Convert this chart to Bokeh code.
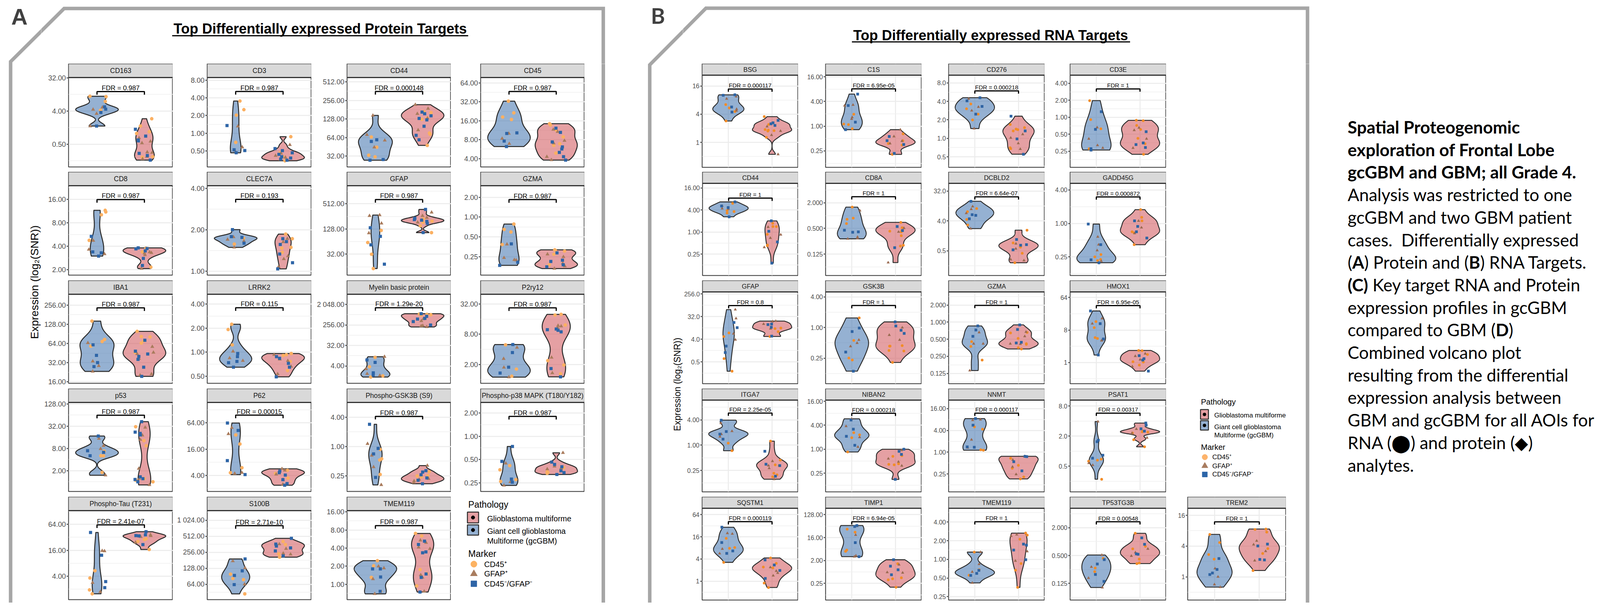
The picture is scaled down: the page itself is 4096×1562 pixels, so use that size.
import numpy as np
from bokeh.plotting import figure
from bokeh.models import Range1d, FixedTicker, ColumnDataSource, Spacer, Div
from bokeh.layouts import row, column
from bokeh.transform import jitter
from bokeh.core.properties import value, field
from bokeh.embed import file_html
from bokeh.resources import INLINE

# ======================= DATA (values are log2(SNR)) =======================
protein_title = "Top Differentially expressed Protein Targets"
rna_title = "Top Differentially expressed RNA Targets"
y_title = "Expression (log\u2082(SNR))"
pathology_labels = ["Glioblastoma multiforme", "Giant cell glioblastoma", "Multiforme (gcGBM)"]
marker_labels = ["CD45\u207a", "GFAP\u207a", "CD45\u207b/GFAP\u207b"]

protein_names = ["CD163", "CD3", "CD44", "CD45", "CD8", "CLEC7A", "GFAP", "GZMA", "IBA1", "LRRK2",
                 "Myelin basic protein", "P2ry12", "p53", "P62", "Phospho-GSK3B (S9)",
                 "Phospho-p38 MAPK (T180/Y182)", "Phospho-Tau (T231)", "S100B", "TMEM119"]
protein_fdr = ["0.987", "0.987", "0.000148", "0.987", "0.987", "0.193", "0.987", "0.987", "0.987", "0.115",
               "1.29e-20", "0.987", "0.987", "0.00015", "0.987", "0.987", "2.41e-07", "2.71e-10", "0.987"]
protein_ticks = [[5, 2, -1], [3, 2, 1, 0, -1], [9, 8, 7, 6, 5], [6, 5, 4, 3, 2], [4, 3, 2, 1], [2, 1, 0],
                 [9, 7, 5], [1, 0, -1, -2], [8, 7, 6, 5, 4], [2, 1, 0, -1], [11, 8, 5, 2], [5, 3, 1],
                 [7, 5, 3, 1], [6, 4, 2], [2, 0, -2], [1, 0, -1, -2], [6, 4, 2], [10, 9, 8, 7, 6],
                 [4, 3, 2, 1, 0]]
protein_tick_labels = [["32.00", "4.00", "0.50"], ["8.00", "4.00", "2.00", "1.00", "0.50"],
                       ["512.00", "256.00", "128.00", "64.00", "32.00"], ["64.00", "32.00", "16.00", "8.00", "4.00"],
                       ["16.00", "8.00", "4.00", "2.00"], ["4.00", "2.00", "1.00"], ["512.00", "128.00", "32.00"],
                       ["2.00", "1.00", "0.50", "0.25"], ["256.00", "128.00", "64.00", "32.00", "16.00"],
                       ["4.00", "2.00", "1.00", "0.50"], ["2 048.00", "256.00", "32.00", "4.00"],
                       ["32.00", "8.00", "2.00"], ["128.00", "32.00", "8.00", "2.00"], ["64.00", "16.00", "4.00"],
                       ["4.00", "1.00", "0.25"], ["2.00", "1.00", "0.50", "0.25"], ["64.00", "16.00", "4.00"],
                       ["1 024.00", "512.00", "256.00", "128.00", "64.00"], ["16.00", "8.00", "4.00", "2.00", "1.00"]]
protein_ylim = [(-3.06, 5.03), (-1.91, 3.15), (4.42, 9.23), (1.56, 6.29), (0.77, 4.58), (-0.09, 2.07),
                (3.34, 10.44), (-2.92, 1.58), (3.92, 8.57), (-1.30, 2.41), (-0.53, 12.49), (-0.25, 5.65),
                (-0.87, 7.13), (0.77, 7.56), (-3.08, 3.00), (-2.37, 1.45), (0.19, 7.06), (5.04, 10.60),
                (-0.85, 4.07)]
protein_bracket = [3.76, 2.36, 8.48, 5.55, 3.99, 1.74, 9.34, 0.88, 7.86, 1.85, 10.52, 4.75, 5.98, 6.59,
                   2.05, 0.85, 5.96, 9.66, 3.24]

protein_gc_cd45 = [[3.33, 3.30, 2.87, 2.07], [1.82, 1.33, 1.02, -0.52], [6.03, 5.48, 5.05, 4.96],
                   [5.04, 4.42, 4.20, 4.07], [3.53, 3.46, 3.34, 2.25], [0.80, 0.66], [6.89, 5.93, 5.00, 3.86],
                   [-0.35, -0.62, -0.75, -1.38], [7.17, 6.21, 6.10, 5.86], [1.16, 0.94, 0.30],
                   [3.26, 1.89, 0.55, 0.38], [2.30, 0.69, 0.22], [2.75, 2.34, 2.33, 0.84], [5.08, 4.39, 2.58, 2.20],
                   [-0.21, -0.85, -0.93, -1.92], [-1.26, -1.44, -1.86, -1.94], [2.42, 1.86, 0.94, 0.64],
                   [6.63, 6.36, 6.29, 5.40], [1.30, 1.02, 0.38, -0.40]]
protein_gc_gfap = [[2.33, 2.14, 1.76, 0.64], [0.39, -0.79, -0.98], [7.19, 5.85, 6.15, 5.48], [3.33, 3.06, 2.79],
                   [2.24, 1.86, 1.67], [0.83, 0.77, 0.73, 0.58], [8.11, 7.45, 6.68, 8.05],
                   [-1.37, -2.05, -2.15, -2.17], [6.03, 5.07, 4.83, 4.54], [0.03, -0.25, -0.36],
                   [3.36, 1.56, 0.86, 0.60], [2.12, 1.38, 0.80, 0.16], [3.88, 3.24, 2.96, 0.59],
                   [5.63, 5.16, 2.20, 2.14], [0.18, -0.62, -1.41, -2.63], [-1.16, -1.96, -2.11],
                   [3.94, 3.96, 1.50, 0.79], [7.45, 7.02, 6.00], [0.99, 0.89, 0.29, -0.53]]
protein_gc_neg = [[2.17, 1.87, 2.38, 0.64], [0.43, -0.94, -0.98, -1.11], [5.88, 5.79, 4.82, 4.78],
                  [3.33, 3.36, 2.93, 2.64], [2.42, 1.76, 1.72, 1.58], [1.01, 0.82, 0.84, 0.68],
                  [7.10, 6.42, 5.74, 4.21], [-1.35, -2.27, -2.43], [5.93, 5.38, 5.00, 4.79],
                  [-0.06, -0.19, -0.39, -0.44, -0.63], [2.88, 2.53, 1.00, 0.65], [2.32, 1.79, 0.82, 0.43],
                  [4.11, 2.79, 2.65, 2.34], [5.99, 5.42, 3.12, 2.06], [1.51, -0.14, -0.51, -2.12],
                  [-0.44, -1.08, -1.84, -1.97], [5.37, 3.62, 1.58, 1.12], [7.58, 6.84, 6.55, 5.98],
                  [0.85, 0.85, 0.40, -0.39]]
protein_gbm_cd45 = [[1.30, 0.64, 0.12, -0.03, -2.13, -2.18], [-0.20, -1.11, -1.33, -1.56],
                    [7.40, 7.34, 7.04, 6.98, 6.18, 6.24, 5.58], [3.85, 3.78, 3.51, 3.15, 2.79, 2.70, 2.29],
                    [1.92, 1.89, 1.76, 1.11], [0.90, 0.79, 0.58, 0.56, 0.46], [7.63, 7.53, 7.26, 6.71, 7.80],
                    [-1.67, -1.71, -1.65, -1.87, -2.40], [6.63, 6.36, 6.14, 6.34, 6.02, 5.53],
                    [-0.06, -0.11, -0.14, -0.39, -0.77], [9.55, 9.45, 9.59, 9.50],
                    [4.27, 4.32, 3.61, 1.25, 0.96, 0.38], [4.95, 3.70, 3.24, 0.28, 0.14, 0.00],
                    [2.38, 2.20, 2.14, 1.79], [-1.73, -2.00, -2.08, -2.02, -2.31], [-1.35, -1.53, -1.59, -1.55],
                    [4.89, 4.68, 4.83, 4.06], [8.67, 8.48, 7.90, 7.69], [2.81, 2.67, 0.81, 0.59, -0.09]]
protein_gbm_gfap = [[-0.44, -0.90, -0.75, -1.77, -1.72, -2.13, -2.34], [-0.66, -1.14, -1.27, -1.37, -1.49],
                    [7.77, 7.56, 7.28, 7.04, 6.40], [3.54, 3.42, 2.95, 2.82, 2.10, 1.93],
                    [1.72, 1.75, 1.70, 1.63, 1.05], [0.79, 0.71, 0.37, 0.30, 0.11], [8.32, 8.05, 7.90, 7.53, 7.70],
                    [-1.87, -2.00, -2.33, -2.47, -2.59], [5.83, 5.53, 5.45, 5.21, 4.40, 4.34],
                    [-0.11, -0.30, -0.36, -0.60, -0.91], [8.87, 8.58, 7.90, 7.85, 7.71],
                    [3.53, 3.57, 3.44, 1.46, 0.43], [4.88, 4.18, 3.79, 1.19, 0.28, -0.28],
                    [2.50, 2.38, 2.08, 1.67, 1.31], [-1.31, -2.21, -2.26, -2.37, -2.47], [-0.71, -1.29, -1.37, -1.41],
                    [5.19, 5.11, 5.04, 4.60], [8.51, 8.22, 7.93, 7.87], [2.43, 2.30, 2.04, 1.96, 0.51, 0.38, -0.39]]
protein_gbm_neg = [[0.35, -0.27, -0.62, -0.70, -1.83, -2.03, -2.44],
                   [-0.87, -0.99, -1.11, -1.20, -1.33, -1.41, -1.46, -1.53],
                   [7.37, 7.28, 7.17, 7.03, 6.95, 6.61, 6.12, 5.88], [3.61, 3.39, 2.88, 2.62, 2.51, 2.33, 2.10, 1.92],
                   [1.93, 1.90, 1.89, 1.80, 1.48, 1.18], [0.79, 0.72, 0.65, 0.42, 0.21, 0.06],
                   [8.56, 7.85, 7.75, 7.70, 7.60, 7.45, 6.72], [-1.80, -2.17, -2.23, -2.40, -2.50],
                   [6.17, 5.60, 5.45, 5.32, 5.17, 4.76, 4.28], [-0.19, -0.26, -0.47, -0.63, -1.03],
                   [9.65, 9.26, 8.97, 8.87, 8.49, 8.00], [3.35, 3.16, 3.30, 3.26, 0.73, 0.18],
                   [5.40, 4.46, 4.35, 4.21, 0.28, 0.21, 0.00, 0.45], [2.32, 2.20, 2.02, 1.67, 1.37, 1.25],
                   [-1.66, -1.75, -1.94, -2.15, -2.31, -2.55], [-1.11, -1.31, -1.48, -1.56, -1.64, -1.21],
                   [5.43, 5.19, 5.13, 5.11, 4.44], [8.87, 8.51, 8.39, 8.27, 8.08, 7.77],
                   [2.38, 2.20, 1.79, 1.74, 0.57, 0.38, -0.43]]

rna_names = ["BSG", "C1S", "CD276", "CD3E", "CD44", "CD8A", "DCBLD2", "GADD45G", "GFAP", "GSK3B", "GZMA",
             "HMOX1", "ITGA7", "NIBAN2", "NNMT", "PSAT1", "SQSTM1", "TIMP1", "TMEM119", "TP53TG3B", "TREM2"]
rna_fdr = ["0.000117", "6.95e-05", "0.000218", "1", "1", "1", "6.64e-07", "0.000872", "0.8", "1", "1",
           "6.95e-05", "2.25e-05", "0.000218", "0.000117", "0.00317", "0.000119", "6.94e-05", "1", "0.00548", "1"]
rna_ticks = [[4, 2, 0], [4, 2, 0, -2], [3, 2, 1, 0, -1], [2, 1, 0, -1, -2], [4, 2, 0, -2], [1, -1, -3],
             [5, 2, -1], [2, 0, -2], [8, 5, 2, -1], [2, 0, -2], [1, 0, -1, -2, -3], [6, 3, 0], [2, 0, -2],
             [4, 2, 0, -2], [4, 2, 0, -2], [3, 1, -1], [6, 4, 2, 0], [7, 4, 1, -2], [2, 1, 0, -1, -2],
             [1, -1, -3], [4, 2, 0]]
rna_tick_labels = [["16", "4", "1"], ["16.00", "4.00", "1.00", "0.25"], ["8.0", "4.0", "2.0", "1.0", "0.5"],
                   ["4.00", "2.00", "1.00", "0.50", "0.25"], ["16.00", "4.00", "1.00", "0.25"],
                   ["2.000", "0.500", "0.125"], ["32.0", "4.0", "0.5"], ["4.00", "1.00", "0.25"],
                   ["256.0", "32.0", "4.0", "0.5"], ["4.00", "1.00", "0.25"],
                   ["2.000", "1.000", "0.500", "0.250", "0.125"], ["64", "8", "1"], ["4.00", "1.00", "0.25"],
                   ["16.00", "4.00", "1.00", "0.25"], ["16.00", "4.00", "1.00", "0.25"], ["8.0", "2.0", "0.5"],
                   ["64", "16", "4", "1"], ["128.00", "16.00", "2.00", "0.25"],
                   ["4.00", "2.00", "1.00", "0.50", "0.25"], ["2.000", "0.500", "0.125"], ["16", "4", "1"]]
rna_ylim = [(-1.76, 4.76), (-3.33, 4.13), (-1.57, 3.42), (-2.95, 2.48), (-3.94, 4.41), (-4.67, 2.51),
            (-3.48, 5.77), (-3.11, 2.39), (-3.87, 8.27), (-3.67, 2.33), (-3.60, 1.77), (-1.96, 6.52),
            (-3.70, 3.57), (-3.56, 4.10), (-3.65, 4.79), (-2.71, 3.40), (-1.70, 6.58), (-4.18, 7.84),
            (-2.18, 2.74), (-4.20, 2.40), (-1.51, 4.46)]
rna_bracket = [3.78, 3.02, 2.57, 1.67, 3.07, 1.47, 4.42, 1.58, 6.46, 1.44, 0.98, 5.26, 2.54, 3.00, 3.59,
               2.53, 5.37, 6.08, 2.02, 1.43, 3.58]

rna_gc_cd45 = [[2.68, 2.44, 2.19, 1.52], [0.97, 0.17, 0.13, -0.20], [1.86, 1.00, 1.60, 1.31],
               [0.98, -0.14, -0.68, -1.85], [2.60, 1.85, 1.72, 1.94], [0.66, -0.20, -0.29, -0.62],
               [3.24, 2.93, 2.14, 1.59], [-1.86, -2.15, -2.22, -2.00], [2.85, 2.37, -0.55, -2.22],
               [0.63, -0.84, -1.99, -2.12], [-1.14, -1.42, -2.22], [3.78, 3.22, 2.30, 2.22], [0.16, -0.44],
               [1.38, 1.20, 0.96, -0.23], [2.33, 2.11, 0.18, 0.22], [-0.53, -0.60, -0.67, -1.87],
               [3.87, 3.04, 2.97, 1.70], [4.71, 5.10, 2.37, 2.20], [0.39, -0.85, -0.56], [-1.20, -1.90, -2.16],
               [2.76, 2.23, 1.45, 1.15]]
rna_gc_gfap = [[3.25, 3.09, 2.36, 2.25], [1.72, 1.67, 0.72, 0.58], [2.14, 1.70, 1.50, 0.53],
               [-0.60, -1.27, -1.65, -1.81], [2.37, 2.13, 2.09], [0.39, -1.67, -1.78, -1.81],
               [3.45, 2.77, 1.23, 3.18], [-0.80, -1.27, -1.61, -2.25], [5.93, 4.76, 2.74, 1.95],
               [-0.81, -1.01, -1.23], [-0.60, -1.26, -1.26, -2.83], [4.07, 3.59, 2.07, 2.02],
               [1.75, 1.11, 0.87, 0.67], [2.54, 1.92, 1.00, 0.19], [3.00, 2.94, 1.15, 0.41], [1.97, -0.93, -0.80],
               [4.27, 4.33, 2.91, 2.50], [5.50, 4.34, 1.63, 1.50], [-0.26, -0.67, -1.26, 0.39],
               [-0.96, -1.82, -2.62, -3.30], [0.54, 0.00, -0.50, -0.67]]
rna_gc_neg = [[3.34, 3.37, 2.51, 2.15], [2.60, 1.67, 0.33, -0.28], [2.20, 1.73, 2.03, 1.31],
              [0.33, -0.71, -1.85, -1.93], [2.73, 2.36, 2.22, 1.38], [-1.14, -1.27, -1.30],
              [3.97, 2.56, 2.21, 2.62], [-0.04, -1.27, -2.17, -2.35], [4.23, 3.54, 1.10, 0.25],
              [-0.03, -0.26, -1.60, -2.85], [-0.22, -0.46, -0.83], [4.76, 3.59, 2.17, 0.69],
              [1.98, 0.87, 0.48, 1.08], [2.44, 1.67, 1.08, 0.33], [3.09, 2.48, 0.49, 0.45],
              [0.63, 0.73, -0.27, -0.47], [4.87, 3.49, 2.73, 2.51], [5.58, 5.45, 3.34, 1.50],
              [-0.86, -0.59, -0.75], [-1.29, -1.61, -2.36, -2.86], [1.19, 0.48, 0.25, 0.15]]
rna_gbm_cd45 = [[1.83, 1.27, 0.84, 0.87, 0.81, 0.36, 0.91], [-0.62, -1.17, -1.40, -1.53, -2.28],
                [0.75, 0.58, 0.50, 0.40, -0.51, -0.56, 0.47], [-0.20, -0.18, -0.48, -1.24, -1.56, -2.18, -0.72],
                [0.79, 0.50, 0.49, -0.21, -1.18, -1.23], [-0.53, -1.18, -1.22, -1.27, -0.94, -1.57, -2.31, -2.37],
                [1.07, -0.21, -0.63, -1.25, -2.20], [0.82, 0.36, 0.15, -0.50, -0.57, -1.27],
                [3.49, 3.41, 3.01, 2.37], [-1.21, -1.21, -1.18, -1.50, -1.53, -2.28],
                [-0.63, -0.60, -0.95, -1.26, -1.30, -1.57, -1.49], [1.11, 1.09, 0.74, 0.07, 0.04, -0.24],
                [0.32, -1.19, -1.56, -1.62, -2.22, -2.51, -2.35], [-0.54, -1.21, -1.30, -1.26, -0.59],
                [-0.56, -1.21, -1.48, -2.28, -2.46], [1.33, 1.29, 1.27, 0.76, 0.29, 1.20],
                [2.10, 1.61, 1.20, 1.28, -0.17, -0.57], [0.58, -1.26, -1.39, -1.53, -2.50],
                [1.41, 1.08, 1.30, -0.22, -0.58, -1.50], [0.60, -0.34, -0.52, -1.25, -1.53, -1.58],
                [3.08, 3.11, 2.91, 1.84, 1.52, 0.41]]
rna_gbm_gfap = [[1.13, 0.81, 0.52, -0.84], [-0.28, -0.83, -1.20, -1.40], [0.22, 0.03, -0.27, -0.58],
                [-0.62, -0.76, -1.27, -1.81], [0.45, -0.24, -0.54, -1.38], [-0.98, -1.27, -3.66],
                [-0.28, -0.79, -1.87, -1.97], [0.15, -0.25, -0.59], [4.42, 4.02, 4.36, 3.41], [0.00, -0.49, -0.81],
                [-0.57, -0.83, -1.26, -1.28], [0.81, 0.59, 0.26, -0.37], [-1.27, -1.62, -1.83, -2.70],
                [-0.09, -0.79, -1.05, -1.38], [-0.38, -0.71, -1.35, -2.04], [1.20, 0.89, 1.47],
                [1.25, 0.92, 0.74, 0.50], [0.45, -0.61, -0.55], [1.33, 1.25, 0.43, -0.08], [-0.52, -0.78, -1.03],
                [2.34, 2.10, 1.67, 1.06]]
rna_gbm_neg = [[1.56, 1.32, 1.39, 1.20], [-0.83, -1.17, -1.48, -2.20], [1.20, 0.40, -0.03, -0.86],
               [-0.85, -1.51, -1.61, -1.78], [1.01, 0.07, -0.90, -2.82], [-0.85, -1.17, -2.50],
               [0.14, -0.38, -0.44, -0.90], [0.15, -0.18, -0.50, -0.87], [4.02, 3.94, 3.59, 2.42],
               [0.37, 0.10, -0.18, -0.38], [-0.16, -0.43, -1.18, -1.22], [0.63, 0.35, 0.22, -0.80],
               [-0.48, -1.62, -2.46, -1.51], [0.00, -0.18, -0.43, -2.52], [-0.38, -0.41, -0.88, -1.72],
               [1.87, 1.73, 1.49, 1.33], [1.92, 1.46, 0.97, 0.25], [1.10, 0.26, -0.21, -0.87],
               [0.82, 0.76, 0.50, -0.02], [0.27, -0.19, -0.88, -0.91], [2.13, 2.01, 1.13, 1.10]]

# ======================= LAYOUT / STYLE =======================
S = 0.752
X0 = 8 / S
FONT = "Liberation Sans"


def P(v):
    return int(round(v * S))


GC_FILL = "#4e7db4"
GBM_FILL = "#d46166"
FRAME_COLOR = "#a6a6a6"
MARKERS = ("circle", "triangle", "square")

STYLE_A = dict(panel_h=350, strip_h=35, tick_fs="18px", strip_fs="17.5px", fdr_fs="17px", xgrid=False,
               leg=0.035, vlw=2.5, sizes=(9, 10, 8), colors=("#fbb062", "#a97b5c", "#2e65a7"))
STYLE_B = dict(panel_h=352, strip_h=29, tick_fs="16px", strip_fs="16.5px", fdr_fs="15px", xgrid=True,
               leg=0.03, vlw=2.3, sizes=(7, 8, 7), colors=("#f28c28", "#9a6a50", "#2f64a3"))

ROW0, PITCH, BOTTOM = 228, 368.4, 2063
ROWS = [(ROW0 + PITCH * i, ROW0 + PITCH * (i + 1) if i < 4 else BOTTOM) for i in range(5)]
A_COLS = [(150, 244, 598), (598, 716, 1070), (1070, 1191, 1545), (1545, 1646, 2000)]
B_COLS = [(2335, 2400, 2727), (2727, 2820, 3147), (3147, 3240, 3566), (3566, 3653, 3980), (3980, 4053, 4388)]


def bw_nrd0(x):
    n = len(x)
    sd = np.std(x, ddof=1)
    q75, q25 = np.percentile(x, [75, 25])
    lo = min(sd, (q75 - q25) / 1.34)
    if lo <= 0:
        lo = sd if sd > 0 else 1.0
    return 0.9 * lo * n ** (-0.2)


def density(x, grid):
    bw = bw_nrd0(x)
    z = (grid[:, None] - x[None, :]) / bw
    return np.exp(-0.5 * z ** 2).sum(axis=1) / (len(x) * bw * np.sqrt(2 * np.pi))


def minor_of(ticks, lo, hi):
    t = sorted(ticks)
    step = t[1] - t[0]
    m = [(a + b) / 2 for a, b in zip(t[:-1], t[1:])] + [t[0] - step / 2, t[-1] + step / 2]
    return [v for v in m if lo < v < hi]


def make_panel(name, fdr, ticks, tick_labels, ylim, bracket, gc, gbm, col, rw, st):
    c0, fl, fr = col
    r0, r1 = rw
    lo, hi = ylim
    width = P(fr) - P(c0)
    height = P(r1) - P(r0)
    frame_h = P(r0 + st["panel_h"]) - P(r0)
    strip_h = st["strip_h"]
    plot_h = frame_h - strip_h
    top = hi + (hi - lo) * strip_h / plot_h
    p = figure(width=width, height=height, x_range=Range1d(0.4, 2.6), y_range=Range1d(lo, top),
               x_axis_location=None, toolbar_location=None, output_backend="svg",
               min_border_left=P(fl) - P(c0), min_border_right=0, min_border_top=0,
               min_border_bottom=height - frame_h)
    p.title.visible = False
    p.outline_line_color = "#333333"
    p.outline_line_width = 2
    tk = FixedTicker(ticks=ticks, minor_ticks=minor_of(ticks, lo, hi))
    ax = p.yaxis[0]
    ax.ticker = tk
    ax.major_label_overrides = {float(t): l for t, l in zip(ticks, tick_labels)}
    ax.axis_line_color = None
    ax.major_tick_line_color = "#333333"
    ax.major_tick_line_width = 2
    ax.major_tick_out = 5
    ax.major_tick_in = 0
    ax.minor_tick_line_color = None
    ax.major_label_standoff = 2
    ax.major_label_text_font = FONT
    ax.major_label_text_font_size = st["tick_fs"]
    ax.major_label_text_color = "#4d4d4d"
    p.ygrid.ticker = tk
    p.ygrid.grid_line_color = "#ebebeb"
    p.ygrid.grid_line_width = 2.5
    p.ygrid.minor_grid_line_color = "#efefef"
    p.ygrid.minor_grid_line_width = 1.3
    if st["xgrid"]:
        p.xgrid.ticker = FixedTicker(ticks=[1, 2])
        p.xgrid.grid_line_color = "#ebebeb"
        p.xgrid.grid_line_width = 2.5
    else:
        p.xgrid.grid_line_color = None

    # violins (ggplot-like: gaussian KDE, bw.nrd0, trimmed, area-scaled)
    groups = [np.array(gc[0] + gc[1] + gc[2], float), np.array(gbm[0] + gbm[1] + gbm[2], float)]
    dens = []
    for v in groups:
        grid = np.linspace(v.min(), v.max(), 256)
        dens.append((grid, density(v, grid)))
    dmax = max(d.max() for _, d in dens)
    for (grid, d), xc, fc in zip(dens, (1, 2), (GC_FILL, GBM_FILL)):
        w = 0.45 * d / dmax
        p.patch(np.concatenate([xc - w, (xc + w)[::-1]]), np.concatenate([grid, grid[::-1]]),
                fill_color=fc, fill_alpha=0.6, line_color="#2b2b2b", line_width=st["vlw"], line_join="round")

    # points
    xs, ys, mk, cl, sz = [], [], [], [], []
    for xc, grp in ((1, gc), (2, gbm)):
        for k, vals in enumerate(grp):
            for v in vals:
                xs.append(xc)
                ys.append(v)
                mk.append(MARKERS[k])
                cl.append(st["colors"][k])
                sz.append(st["sizes"][k])
    src = ColumnDataSource(dict(x=xs, y=ys, marker=mk, color=cl, size=sz))
    p.scatter(x=jitter("x", width=0.4, distribution="uniform"), y="y", marker=field("marker"),
              size="size", fill_color="color", line_color=None, source=src)

    # significance bracket
    leg = st["leg"] * (hi - lo)
    p.multi_line(xs=[[1, 1, 2, 2]], ys=[[bracket - leg, bracket, bracket, bracket - leg]],
                 line_color="black", line_width=3)
    p.text(x=[1.5], y=[bracket], text=["FDR = " + fdr], text_align="center", text_baseline="middle",
           y_offset=-9, text_font=value(FONT), text_font_size=st["fdr_fs"], text_color="black")

    # facet strip
    p.extra_x_ranges = {"sx": Range1d(0, 1)}
    p.extra_y_ranges = {"sy": Range1d(0, frame_h)}
    p.quad(left=[0], right=[1], bottom=[plot_h], top=[frame_h], x_range_name="sx", y_range_name="sy",
           fill_color="#d9d9d9", line_color="#333333", line_width=1.5)
    p.segment(x0=[0], y0=[plot_h], x1=[1], y1=[plot_h], x_range_name="sx", y_range_name="sy",
              line_color="#333333", line_width=3)
    p.text(x=[0.5], y=[plot_h + strip_h / 2], text=[name], x_range_name="sx", y_range_name="sy",
           text_align="center", text_baseline="middle", text_font=value(FONT),
           text_font_size=st["strip_fs"], text_color="#1a1a1a")
    return p


def deco(x0, x1, y0, y1):
    p = figure(width=P(x1) - P(x0), height=P(y1) - P(y0), x_range=Range1d(x0, x1), y_range=Range1d(y1, y0),
               x_axis_location=None, y_axis_location=None, toolbar_location=None, output_backend="svg",
               min_border=0, outline_line_color=None)
    p.grid.visible = False
    p.title.visible = False
    return p


def draw_legend(p, L):
    p.text(x=[L["tx"], L["tx"]], y=[L["path_y"], L["mark_y"]], text=["Pathology", "Marker"],
           text_align="left", text_baseline="middle", text_font=value(FONT),
           text_font_size=L["title_fs"], text_color="black")
    p.quad(left=[L["bx0"]] * 2, right=[L["bx1"]] * 2, top=[L["b1"][0], L["b2"][0]],
           bottom=[L["b1"][1], L["b2"][1]], fill_color=[GBM_FILL, GC_FILL], fill_alpha=0.6,
           line_color="#2b2b2b", line_width=2.5)
    cx = (L["bx0"] + L["bx1"]) / 2
    p.scatter(x=[cx, cx], y=[sum(L["b1"]) / 2, sum(L["b2"]) / 2], size=L["dot"], color="black")
    p.text(x=[L["lx"]] * 3, y=L["lab_y"], text=pathology_labels, text_align="left", text_baseline="middle",
           text_font=value(FONT), text_font_size=L["lab_fs"], text_color="black")
    p.scatter(x=[L["mx"]] * 3, y=L["m_y"], marker=list(MARKERS), size=L["m_size"],
              color=list(L["m_colors"]))
    p.text(x=[L["mlx"]] * 3, y=L["m_y"], text=marker_labels, text_align="left", text_baseline="middle",
           text_font=value(FONT), text_font_size=L["lab_fs"], text_color="black")


# ----------------------- Panel A -----------------------
FRAME_A = ([46, 46, 228, 2064, 2064], [2090, 220, 39, 39, 2090])
A_left = deco(X0, 150, X0, BOTTOM)
A_head = deco(150, 2140, X0, ROW0)
A_right = deco(2000, 2140, ROW0, BOTTOM)
for f in (A_left, A_head, A_right):
    f.line(FRAME_A[0], FRAME_A[1], line_color=FRAME_COLOR, line_width=9, line_join="miter")
A_left.text(x=[48], y=[66], text=["A"], text_align="left", text_baseline="middle",
            text_font=value(FONT), text_font_size="58px", text_font_style="bold", text_color="#404040")
A_left.text(x=[128], y=[971], text=[y_title], angle=np.pi / 2, text_align="center", text_baseline="middle",
            text_font=value(FONT), text_font_size="28px", text_color="black")
A_head.text(x=[1100], y=[108], text=[protein_title], text_align="center", text_baseline="middle",
            text_font=value(FONT), text_font_size="36px", text_font_style="bold", text_color="black")
A_head.segment(x0=[596], y0=[132], x1=[1604], y1=[132], line_color="black", line_width=3)

A_rows = []
for r in range(5):
    figs = []
    for c in range(4):
        i = 4 * r + c
        if i < len(protein_names):
            figs.append(make_panel(protein_names[i], protein_fdr[i], protein_ticks[i], protein_tick_labels[i],
                                   protein_ylim[i], protein_bracket[i],
                                   (protein_gc_cd45[i], protein_gc_gfap[i], protein_gc_neg[i]),
                                   (protein_gbm_cd45[i], protein_gbm_gfap[i], protein_gbm_neg[i]),
                                   A_COLS[c], ROWS[r], STYLE_A))
        else:
            lg = deco(A_COLS[c][0], A_COLS[c][2], ROWS[r][0], ROWS[r][1])
            draw_legend(lg, dict(tx=1604, path_y=1729, mark_y=1901, bx0=1601, bx1=1639, b1=(1755, 1793),
                                 b2=(1800, 1836), dot=9, lx=1668, lab_y=[1778, 1822, 1856], mx=1623,
                                 m_y=[1938, 1972, 2007], m_size=[16, 18, 15], mlx=1658,
                                 m_colors=("#fcb262", "#a87c5f", "#2e64a6"), title_fs="23px", lab_fs="20px"))
            figs.append(lg)
    A_rows.append(row(figs))
A_block = row(A_left, column(A_head, row(column(A_rows), A_right)))

# ----------------------- Panel B -----------------------
FRAME_B = ([2222, 2222, 2413, 4461, 4461], [2090, 231, 38, 38, 2090])
B_left = deco(2140, 2335, X0, BOTTOM)
B_head = deco(2335, 4480, X0, ROW0)
B_right = deco(4388, 4480, ROW0, BOTTOM)
for f in (B_left, B_head, B_right):
    f.line(FRAME_B[0], FRAME_B[1], line_color=FRAME_COLOR, line_width=9, line_join="miter")
B_left.text(x=[2226], y=[63], text=["B"], text_align="left", text_baseline="middle",
            text_font=value("Lato"), text_font_size="55px", text_font_style="bold", text_color="#404040")
B_left.text(x=[2316], y=[1319], text=[y_title], angle=np.pi / 2, text_align="center", text_baseline="middle",
            text_font=value(FONT), text_font_size="23px", text_color="black")
B_head.text(x=[3383], y=[130], text=[rna_title], text_align="center", text_baseline="middle",
            text_font=value(FONT), text_font_size="36px", text_font_style="bold", text_color="black")
B_head.segment(x0=[2910], y0=[153], x1=[3857], y1=[153], line_color="black", line_width=3)


def rna_panel(i, col, rw):
    return make_panel(rna_names[i], rna_fdr[i], rna_ticks[i], rna_tick_labels[i], rna_ylim[i], rna_bracket[i],
                      (rna_gc_cd45[i], rna_gc_gfap[i], rna_gc_neg[i]),
                      (rna_gbm_cd45[i], rna_gbm_gfap[i], rna_gbm_neg[i]), col, rw, STYLE_B)


B_rows = [row([rna_panel(4 * r + c, B_COLS[c], ROWS[r]) for c in range(4)]) for r in range(5)]
B_leg = deco(B_COLS[4][0], B_COLS[4][2], ROWS[3][0], ROWS[3][1])
draw_legend(B_leg, dict(tx=4035, path_y=1378, mark_y=1532, bx0=4033, bx1=4066, b1=(1404, 1437),
                        b2=(1442, 1474), dot=8, lx=4090, lab_y=[1423, 1463, 1492], mx=4051,
                        m_y=[1566, 1596, 1625], m_size=[14, 16, 13], mlx=4082,
                        m_colors=("#fdb36b", "#a87c5f", "#2c65a8"), title_fs="20px", lab_fs="17px"))
B_col5 = column(Spacer(width=P(B_COLS[4][2]) - P(B_COLS[4][0]), height=P(ROWS[3][0]) - P(ROW0)),
                B_leg, rna_panel(20, B_COLS[4], ROWS[4]))
B_block = row(B_left, column(B_head, row(column(B_rows), B_col5, B_right)))

# ----------------------- caption text -----------------------
caption = (
    "<div style=\"font-family:Lato,'Open Sans',sans-serif;font-size:44px;line-height:57.7px;color:#000;"
    "white-space:nowrap;margin:0;padding:297px 0 0 89px;\">"
    "<b>Spatial Proteogenomic</b><br>"
    "<b>exploration of Frontal Lobe</b><br>"
    "<b>gcGBM and GBM; all Grade 4.</b><br>"
    "Analysis was restricted to one<br>"
    "gcGBM and two GBM patient<br>"
    "cases.&nbsp; Differentially expressed<br>"
    "(<b>A</b>) Protein and (<b>B</b>) RNA Targets.<br>"
    "<b>(C)</b> Key target RNA and Protein<br>"
    "expression profiles in gcGBM<br>"
    "compared to GBM (<b>D</b>)<br>"
    "Combined volcano plot<br>"
    "resulting from the differential<br>"
    "expression analysis between<br>"
    "GBM and gcGBM for all AOIs for<br>"
    "RNA (\u2b24) and protein (\u25c6)<br>"
    "analytes.</div>"
)
text_div = Div(text=caption, width=4080 - P(4480), height=P(BOTTOM) - 8, margin=0)

page = row(A_block, B_block, text_div)
open("out.html", "w").write(file_html(page, INLINE))
